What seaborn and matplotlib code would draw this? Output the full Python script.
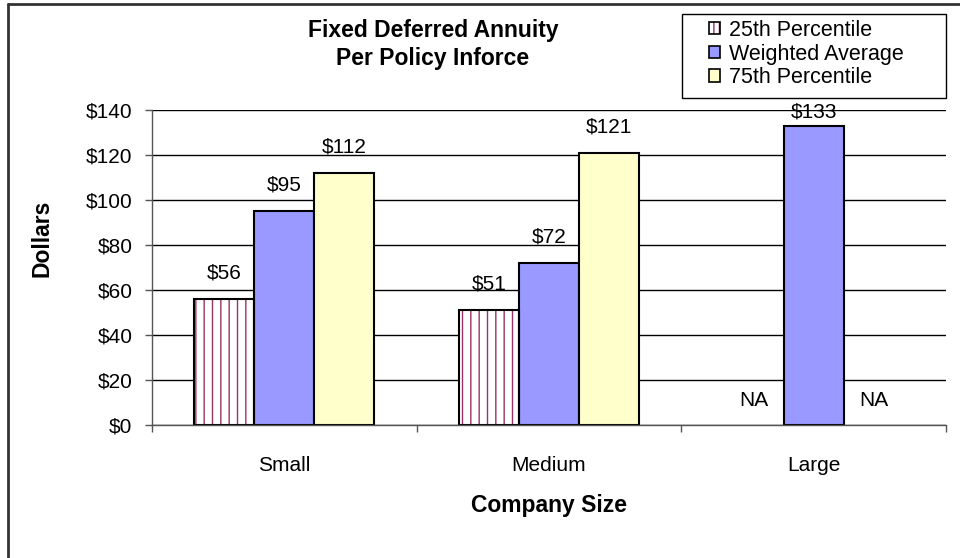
import matplotlib
matplotlib.use("Agg")
import matplotlib.pyplot as plt
import seaborn as sns
import pandas as pd
import numpy as np
from matplotlib.patches import Patch, Rectangle
from matplotlib.lines import Line2D
from matplotlib.legend_handler import HandlerTuple

categories = ["Small", "Medium", "Large"]
series = ["25th Percentile", "Weighted Average", "75th Percentile"]
p25 = [56, 51, np.nan]
wavg = [95, 72, 133]
p75 = [112, 121, np.nan]
yticks = [0, 20, 40, 60, 80, 100, 120, 140]
ytick_labels = ["$0", "$20", "$40", "$60", "$80", "$100", "$120", "$140"]
title_lines = ["Fixed Deferred Annuity", "Per Policy Inforce"]

colors = {"25th Percentile": "#FFFFFF", "Weighted Average": "#9999FF", "75th Percentile": "#FFFFCC"}
hatch_color = "#993366"

series_values = [p25, wavg, p75]
rows = []
for i, c in enumerate(categories):
    for s, vals in zip(series, series_values):
        rows.append({"Company Size": c, "Series": s, "Value": vals[i]})
df = pd.DataFrame(rows)

sns.set_theme(style="white")
plt.rcParams["font.family"] = ["Liberation Sans", "DejaVu Sans"]
plt.rcParams["text.color"] = "black"
plt.rcParams["axes.labelcolor"] = "black"
plt.rcParams["xtick.color"] = "black"
plt.rcParams["ytick.color"] = "black"
FS = 15
FSB = 16.5
FSL = 15.5

fig = plt.figure(figsize=(9.6, 5.58), dpi=100)
ax = fig.add_axes([152/960, 1-425/558, 794/960, 315/558])

sns.barplot(data=df, x="Company Size", y="Value", hue="Series", order=categories,
            hue_order=series, palette=colors, width=0.68, edgecolor="black",
            linewidth=1.5, ax=ax, legend=False, saturation=1)

# hatch the 25th percentile bars
cont25 = ax.containers[0]
for p in cont25.patches:
    if np.isnan(p.get_height()) or p.get_height() == 0:
        continue
    p.set_hatch("||")
    p.set_edgecolor(hatch_color)
    p.set_linewidth(0)
    ax.add_patch(Rectangle(p.get_xy(), p.get_width(), p.get_height(), fill=False,
                           edgecolor="black", linewidth=1.5, zorder=p.get_zorder() + 0.1))

ax.set_ylim(0, 140)
ax.set_xlim(-0.5, 2.5)
ax.set_yticks(yticks)
ax.set_yticklabels(ytick_labels, fontsize=FS)
ax.yaxis.grid(True, color="black", linewidth=1)
ax.set_axisbelow(True)
for s in ["top", "right"]:
    ax.spines[s].set_visible(False)
for s in ["left", "bottom"]:
    ax.spines[s].set_color("#555555")
    ax.spines[s].set_linewidth(1)
ax.tick_params(axis="y", which="major", direction="out", length=5, width=1, color="#555555", pad=9, left=True)
ax.tick_params(axis="x", which="major", length=0, pad=22, labelsize=FS)
ax.set_xticks(range(len(categories)))
ax.set_xticklabels(categories, fontsize=FS)
ax.set_xticks([-0.5, 0.5, 1.5, 2.5], minor=True)
ax.tick_params(axis="x", which="minor", direction="out", length=5, width=1, color="#555555", bottom=True)

ax.set_ylabel("Dollars", fontsize=FSB, fontweight="bold")
ax.yaxis.set_label_coords(-0.124, 0.594)
ax.set_xlabel("Company Size", fontsize=FSB, fontweight="bold")
ax.xaxis.set_label_coords(0.5, -0.22)

# hue offsets from the first category's bars
offsets = []
for cont in ax.containers:
    p = cont.patches[0]
    offsets.append(p.get_x() + p.get_width() / 2)

# value labels
for si, vals in enumerate(series_values):
    for ci, v in enumerate(vals):
        xc = ci + offsets[si]
        if np.isnan(v):
            ax.text(xc, 11, "NA", ha="center", va="center", fontsize=FS)
        else:
            ax.text(xc, min(v + 11.6, 139), f"${v:.0f}", ha="center", va="center", fontsize=FS)

# title
fig.text(433/960, 1-37/558, title_lines[0], ha="center", va="baseline", fontsize=FSB, fontweight="bold")
fig.text(433/960, 1-65/558, title_lines[1], ha="center", va="baseline", fontsize=FSB, fontweight="bold")

# legend
handles = [(Patch(facecolor="white", edgecolor=hatch_color, hatch="|||", linewidth=0),
            Patch(facecolor="none", edgecolor="black", linewidth=1.2)),
           Patch(facecolor=colors["Weighted Average"], edgecolor="black", linewidth=1.2),
           Patch(facecolor=colors["75th Percentile"], edgecolor="black", linewidth=1.2)]
fig.add_artist(Rectangle((682/960, 1-98/558), 264/960, 84/558, transform=fig.transFigure,
                         facecolor="white", edgecolor="black", linewidth=1))
leg = fig.legend(handles, series, loc="upper left", bbox_to_anchor=(709/960, 1-20/558),
                 fontsize=FSL, frameon=False,
                 handlelength=0.5, handleheight=0.5, handletextpad=0.45,
                 borderpad=0, labelspacing=0.12, borderaxespad=0,
                 handler_map={tuple: HandlerTuple(ndivide=1, pad=0)})

# outer border (left and top visible)
fig.add_artist(Line2D([8/960, 8/960], [0, 1-4/558], color="#333333", linewidth=2, transform=fig.transFigure))
fig.add_artist(Line2D([8/960, 1], [1-4/558, 1-4/558], color="#333333", linewidth=2, transform=fig.transFigure))

fig.savefig("out.png", dpi=100)
